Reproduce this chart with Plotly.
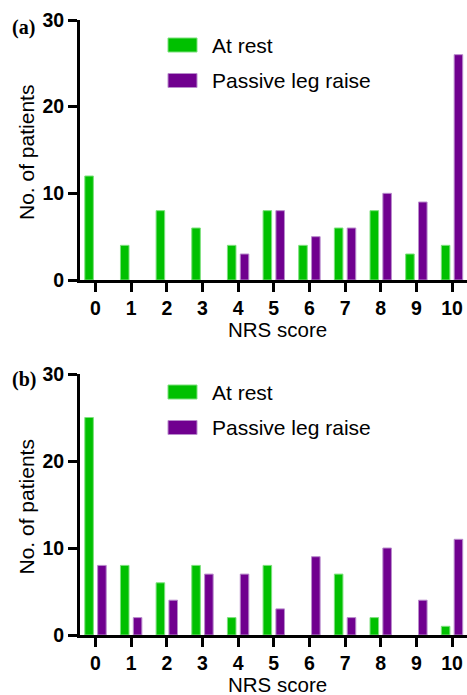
import plotly.graph_objects as go

scores = list(range(11))
tick_labels = [str(s) for s in scores]

rest_a = [12, 4, 8, 6, 4, 8, 4, 6, 8, 3, 4]
plr_a = [0, 0, 0, 0, 3, 8, 5, 6, 10, 9, 26]
rest_b = [25, 8, 6, 8, 2, 8, 0, 7, 2, 0, 1]
plr_b = [8, 2, 4, 7, 7, 3, 9, 2, 10, 4, 11]

GREEN = "#00C000"
GREEN_EDGE = "#7de07d"
PURPLE = "#70008F"
PURPLE_EDGE = "#b98ccc"
FONT = "Arial, Liberation Sans, sans-serif"

W, H = 467, 695


def px(x):
    return x / W


def py(y):
    return (H - y) / H


fig = go.Figure()

panels = [
    dict(rest=rest_a, plr=plr_a, xa="x", ya="y", top=20, bottom=280, label="(a)", leg=45, lab=27),
    dict(rest=rest_b, plr=plr_b, xa="x2", ya="y2", top=374, bottom=635, label="(b)", leg=392, lab=379),
]


def nz(vals):
    return [v if v else None for v in vals]


for p in panels:
    fig.add_trace(go.Bar(x=scores, y=nz(p["rest"]), name="At rest", xaxis=p["xa"], yaxis=p["ya"],
                         marker=dict(color=GREEN, line=dict(color=GREEN_EDGE, width=1)),
                         showlegend=False))
    fig.add_trace(go.Bar(x=scores, y=nz(p["plr"]), name="Passive leg raise", xaxis=p["xa"], yaxis=p["ya"],
                         marker=dict(color=PURPLE, line=dict(color=PURPLE_EDGE, width=1)),
                         showlegend=False))

axis_common = dict(showgrid=False, zeroline=False, showline=True, linecolor="black", linewidth=3,
                   ticks="outside", ticklen=9, tickwidth=3, tickcolor="black", automargin=False,
                   tickfont=dict(family=FONT, size=19.5, color="black", weight="bold"))

xdom = [px(80), 1]
xr = [-0.435, 10.42]

fig.update_layout(
    template="none",
    width=W, height=H,
    margin=dict(l=0, r=0, t=0, b=0, pad=0),
    paper_bgcolor="white", plot_bgcolor="white",
    barmode="group", bargap=0.28, bargroupgap=0.333,
    showlegend=False,
    xaxis=dict(domain=xdom, range=xr, anchor="y", tickvals=scores, ticktext=tick_labels, **axis_common),
    yaxis=dict(domain=[py(280), py(20)], range=[0, 30], anchor="x", tickvals=[0, 10, 20, 30], **axis_common),
    xaxis2=dict(domain=xdom, range=xr, anchor="y2", tickvals=scores, ticktext=tick_labels, **axis_common),
    yaxis2=dict(domain=[py(635), py(374)], range=[0, 30], anchor="x2", tickvals=[0, 10, 20, 30], **axis_common),
)

shapes = []
annotations = []
for p in panels:
    top, bottom = p["top"], p["bottom"]
    annotations.append(dict(x=px(10), y=py(p["lab"]), xref="paper", yref="paper", text=p["label"],
                            showarrow=False, xanchor="left", yanchor="middle",
                            font=dict(family="Liberation Serif, Times New Roman, serif", size=20,
                                      color="black", weight="bold")))
    annotations.append(dict(x=px(26), y=py((top + bottom) / 2 + 3), xref="paper", yref="paper",
                            text="No. of patients", textangle=-90, showarrow=False,
                            xanchor="center", yanchor="middle",
                            font=dict(family=FONT, size=21, color="black")))
    annotations.append(dict(x=px(277), y=py(bottom + 49), xref="paper", yref="paper",
                            text="NRS score", showarrow=False, xanchor="center", yanchor="middle",
                            font=dict(family=FONT, size=20.5, color="black")))
    for i, (name, col, edge) in enumerate([("At rest", GREEN, GREEN_EDGE),
                                           ("Passive leg raise", PURPLE, PURPLE_EDGE)]):
        cy = p["leg"] + i * 35.5
        shapes.append(dict(type="rect", xref="paper", yref="paper",
                           x0=px(168), x1=px(197), y0=py(cy - 7), y1=py(cy + 7),
                           fillcolor=col, line=dict(color=edge, width=1)))
        annotations.append(dict(x=px(210), y=py(cy), xref="paper", yref="paper", text=name,
                                showarrow=False, xanchor="left", yanchor="middle",
                                font=dict(family=FONT, size=21, color="black")))

fig.update_layout(shapes=shapes, annotations=annotations)
fig.write_html("out.html", config={"displayModeBar": False},
               post_script="document.body.style.margin='0';document.body.style.overflow='hidden';")
